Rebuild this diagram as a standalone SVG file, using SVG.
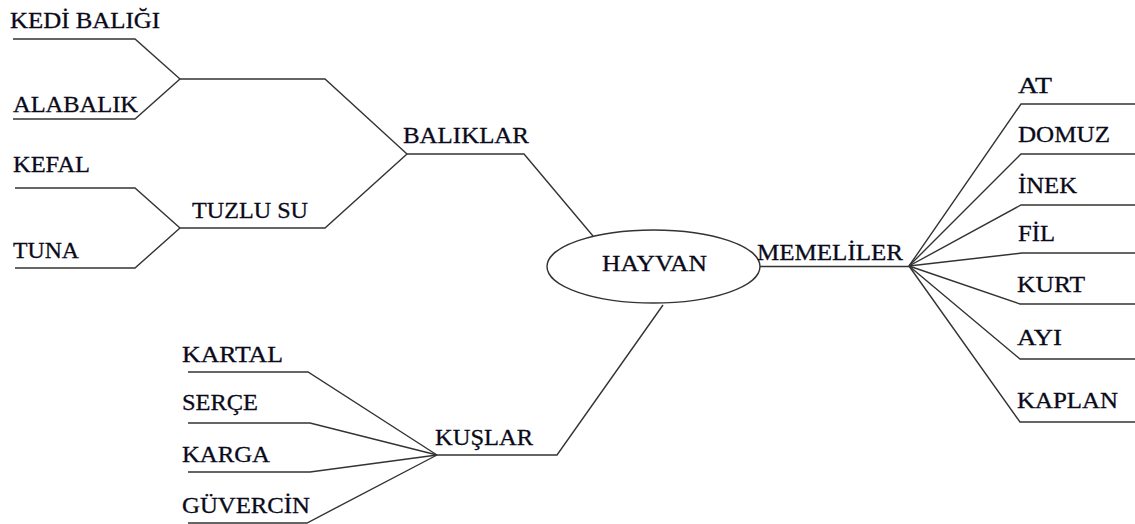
<svg xmlns="http://www.w3.org/2000/svg" width="1135" height="524" viewBox="0 0 1135 524">
<style>
text{font-family:"Liberation Serif","Times New Roman",serif;font-size:24px;fill:#0a0a1a;stroke:#0a0a1a;stroke-width:0.3;}
.c{fill:none;stroke:#333;stroke-width:1.4;stroke-linejoin:miter;}
</style>
<rect width="1135" height="524" fill="#fff"/>
<g id="connectors" class="c">
<path d="M13,39 H135 L180,79"/>
<path d="M13,119 H135 L180,79"/>
<path d="M180,79 H325 L407,154"/>
<path d="M15,188 H135 L180,228"/>
<path d="M15,268 H135 L180,228"/>
<path d="M180,228 H325 L407,154"/>
<path d="M407,154 H524 L593,236"/>
<path d="M760,266.5 H909"/>
<path d="M909,266 L1021,104 H1135"/>
<path d="M909,266 L1021,154 H1135"/>
<path d="M909,266 L1021,205 H1135"/>
<path d="M909,266 L1022,253 H1135"/>
<path d="M909,266 L1020,304 H1135"/>
<path d="M909,266 L1020,359 H1135"/>
<path d="M909,266 L1020,422 H1135"/>
<path d="M188,372 H308 L437,455"/>
<path d="M188,423 H310 L437,455"/>
<path d="M188,472 H310 L437,455"/>
<path d="M188,523 H307 L437,455"/>
<path d="M437,455 H557 L663,305"/>
</g>
<g id="hayvan">
<ellipse cx="653.5" cy="266.5" rx="106.5" ry="36.5" fill="#fff" stroke="#333" stroke-width="1.4"/>
<text x="602" y="271" textLength="105" lengthAdjust="spacingAndGlyphs">HAYVAN</text>
</g>
<g id="baliklar"><text x="403" y="143" textLength="126" lengthAdjust="spacingAndGlyphs">BALIKLAR</text></g>
<g id="kedi-baligi"><text x="10" y="28" textLength="150" lengthAdjust="spacingAndGlyphs">KEDİ BALIĞI</text></g>
<g id="alabalik"><text x="13" y="111.5" textLength="125" lengthAdjust="spacingAndGlyphs">ALABALIK</text></g>
<g id="kefal"><text x="13" y="172" textLength="77" lengthAdjust="spacingAndGlyphs">KEFAL</text></g>
<g id="tuna"><text x="13" y="258" textLength="66" lengthAdjust="spacingAndGlyphs">TUNA</text></g>
<g id="tuzlu-su"><text x="192" y="218" textLength="116" lengthAdjust="spacingAndGlyphs">TUZLU SU</text></g>
<g id="memeliler"><text x="757" y="260" textLength="146" lengthAdjust="spacingAndGlyphs">MEMELİLER</text></g>
<g id="at"><text x="1018" y="93" textLength="34" lengthAdjust="spacingAndGlyphs">AT</text></g>
<g id="domuz"><text x="1018" y="142" textLength="92" lengthAdjust="spacingAndGlyphs">DOMUZ</text></g>
<g id="inek"><text x="1018" y="193" textLength="59" lengthAdjust="spacingAndGlyphs">İNEK</text></g>
<g id="fil"><text x="1018" y="241" textLength="37" lengthAdjust="spacingAndGlyphs">FİL</text></g>
<g id="kurt"><text x="1017" y="292" textLength="68" lengthAdjust="spacingAndGlyphs">KURT</text></g>
<g id="ayi"><text x="1017" y="345" textLength="45" lengthAdjust="spacingAndGlyphs">AYI</text></g>
<g id="kaplan"><text x="1017" y="408" textLength="101" lengthAdjust="spacingAndGlyphs">KAPLAN</text></g>
<g id="kuslar"><text x="435" y="445" textLength="98" lengthAdjust="spacingAndGlyphs">KUŞLAR</text></g>
<g id="kartal"><text x="182" y="362" textLength="101" lengthAdjust="spacingAndGlyphs">KARTAL</text></g>
<g id="serce"><text x="182" y="410" textLength="76" lengthAdjust="spacingAndGlyphs">SERÇE</text></g>
<g id="karga"><text x="182" y="462" textLength="88" lengthAdjust="spacingAndGlyphs">KARGA</text></g>
<g id="guvercin"><text x="182" y="513" textLength="128" lengthAdjust="spacingAndGlyphs">GÜVERCİN</text></g>
</svg>
